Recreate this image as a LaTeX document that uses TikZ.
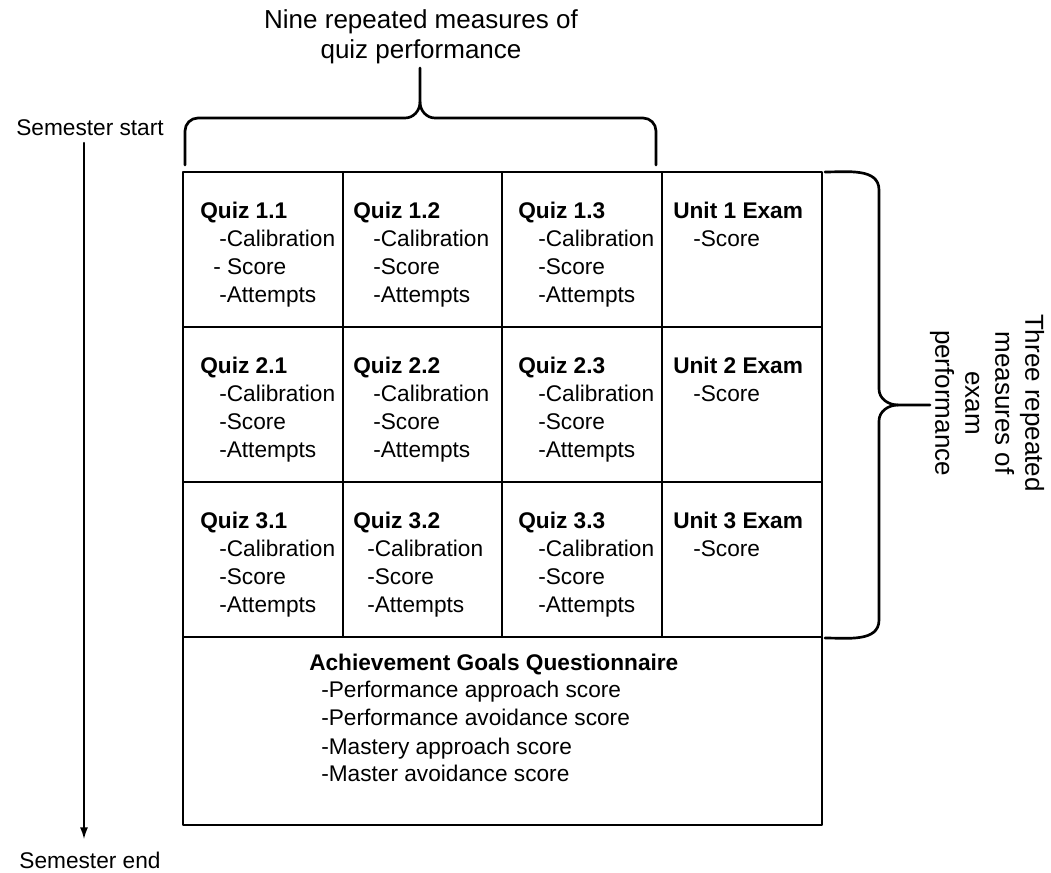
\documentclass[tikz,border=0pt]{standalone}
\usepackage{fontspec}
\setmainfont{Liberation Sans}
\usetikzlibrary{arrows.meta}

\begin{document}
\begin{tikzpicture}[x=.75pt,y=-.75pt,line cap=round,line join=round,
  grid/.style={line width=1.2pt},
  brace/.style={line width=2pt},
  axis/.style={line width=1.5pt,-{Latex[length=9pt,width=6pt]}},
  head/.style={anchor=base west,inner sep=0pt,font=\fontsize{17}{21}\selectfont\bfseries},
  item/.style={anchor=base west,inner sep=0pt,font=\fontsize{17}{21}\selectfont},
  bracetext/.style={align=center,inner sep=0pt,font=\fontsize{19.5}{22.5}\selectfont}]

\useasboundingbox (0,0) rectangle (1051,873);

% Time runs down the left side.
\node[item,anchor=center] (start) at (90,128) {Semester start};
\node[item,anchor=center] (end) at (90,860) {Semester end};
\draw[axis] ([xshift=-4.5pt,yshift=-5pt]start.south) -- ([xshift=-4.5pt,yshift=9pt]end.north);

% Quiz brace over the first three columns.
\draw[brace] (185,165) -- (185,131) to[out=90,in=180] (198,118) -- (405,118)
  to[out=0,in=-90] (420,102) -- (420,68);
\draw[brace] (420,102) to[out=-90,in=180] (435,118) -- (643,118)
  to[out=0,in=90] (656,131) -- (656,165);
\node[bracetext] (quiztitle) at (421,37) {Nine repeated measures of\\quiz performance};

% Exam brace beside the three unit rows.
\draw[brace] (825,172) to[out=0,in=90] (879,190) -- (879,389)
  to[out=-90,in=180] (898,405) -- (930,405);
\draw[brace] (898,405) to[out=180,in=90] (879,421) -- (879,620)
  to[out=-90,in=0] (825,638);
\node[bracetext,rotate=-90] (examtitle) at (987,403)
  {Three repeated\\measures of\\exam\\performance};

% Table of measures.
\draw[grid] (183,172) rectangle (822,825);
\foreach \y in {327,482,637} \draw[grid] (183,\y) -- (822,\y);
\foreach \x in {343,502,662} \draw[grid] (\x,172) -- (\x,637);

\foreach \n/\x/\y/\a/\b/\s in {1.1/200/172/19/13/{- Score},1.2/353/172/20/20/-Score,
  1.3/518/172/20/20/-Score,2.1/200/327/19/19/-Score,2.2/353/327/20/20/-Score,
  2.3/518/327/20/20/-Score,3.1/200/482/19/19/-Score,3.2/353/482/14/14/-Score,
  3.3/518/482/20/20/-Score}
{
  \node[head] at (\x,\y+47) {Quiz \n};
  \node[item] at (\x+\a,\y+75) {-Calibration};
  \node[item] at (\x+\b,\y+103) {\s};
  \node[item] at (\x+\a,\y+131) {-Attempts};
}
\foreach \r/\y in {1/172,2/327,3/482}
{
  \node[head] (unit\r) at (673,\y+47) {Unit \r{} Exam};
  \node[item] at (693,\y+75) {-Score};
}

\node[head] (agq) at (309,671) {Achievement Goals Questionnaire};
\node[item] at (321,698) {-Performance approach score};
\node[item] at (321,726) {-Performance avoidance score};
\node[item] at (321,754) {-Mastery approach score};
\node[item] at (321,782) {-Master avoidance score};
\end{tikzpicture}
\end{document}
